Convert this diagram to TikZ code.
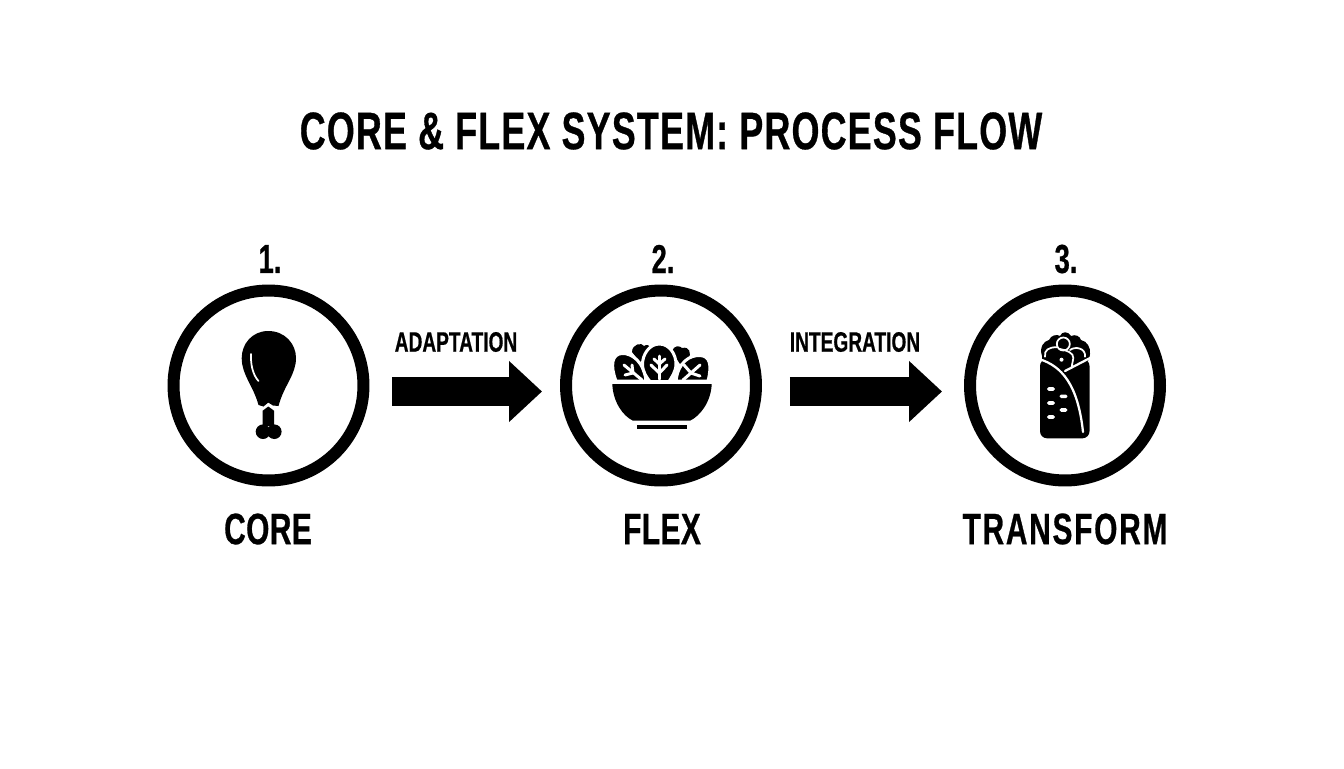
\documentclass[tikz,border=0pt]{standalone}
\usepackage{fontspec}
\setmainfont{Liberation Sans}[BoldFeatures={FakeStretch=0.68,FakeBold=0.6}]
\usetikzlibrary{arrows.meta}
\tikzset{
  stepring/.style={circle,draw=black,line width=.24cm,minimum size=3.8cm,inner sep=0pt},
  flowarrow/.style={draw=black,line width=.58cm,-{Triangle[length=.66cm,width=1.18cm]}},
  titletext/.style={font=\fontsize{30}{30}\selectfont\bfseries\addfontfeature{LetterSpace=2.3}},
  numtext/.style={font=\fontsize{23}{23}\selectfont\bfseries},
  nametext/.style={font=\fontsize{25}{25}\selectfont\bfseries\addfontfeature{LetterSpace=1}},
  widetext/.style={font=\fontsize{25}{25}\selectfont\bfseries\addfontfeature{LetterSpace=4}},
  flowtext/.style={font=\fontsize{16}{16}\selectfont\bfseries},
  vein/.style={draw=white,line width=.06cm,line cap=round},
  leaf/.style={fill=black,draw=white,line width=.06cm},
  wrapline/.style={draw=white,line width=.045cm,line cap=round}
}
\begin{document}
\begin{tikzpicture}[x=.02cm,y=-.02cm]
\useasboundingbox (0,0) rectangle (1344,768);
\node[titletext] (title) at (671,131) {CORE \& FLEX SYSTEM: PROCESS FLOW};
\node[stepring] (core) at (268.5,385.5) {};
\node[stepring] (flex) at (661,385.5) {};
\node[stepring] (transform) at (1065,385.5) {};
\node[numtext] (numcore) at (270,259) {1.};
\node[numtext] (numflex) at (663,259) {2.};
\node[numtext] (numtransform) at (1066,259) {3.};
\node[nametext] (namecore) at (268,529) {CORE};
\node[nametext] (nameflex) at (662,529) {FLEX};
\node[widetext] (nametransform) at (1065,529) {TRANSFORM};
\node[flowtext] (adaptation) at (456,342) {ADAPTATION};
\node[flowtext] (integration) at (855,342) {INTEGRATION};
\draw[flowarrow,shorten <=.46cm,shorten >=.36cm] ([yshift=-.12cm]core.east) -- ([yshift=-.12cm]flex.west);
\draw[flowarrow,shorten <=.56cm,shorten >=.44cm] ([yshift=-.12cm]flex.east) -- ([yshift=-.12cm]transform.west);
\fill (268.3,331) .. controls (285,331) and (296,344) .. (296,358) .. controls (296,375) and (284,385) .. (278.5,406) -- (273,405.5) -- (268.3,402.5) -- (263.5,406.5) -- (258.5,405) .. controls (253,385) and (241.7,375) .. (241.7,358) .. controls (241.7,344) and (252,331) .. (268.3,331) -- cycle;
\fill (268.3,406.5) -- (274,410.7) -- (274,426) -- (262.7,426) -- (262.7,410.7) -- cycle;
\fill (263,431.7) circle[radius=7.3];
\fill (274.3,431.7) circle[radius=7.3];
\draw[vein,line width=.035cm] (251,354) .. controls (250.5,365) and (253,375) .. (258.5,381);
\fill (612.3,384) -- (711.7,384) .. controls (711,402) and (700,416) .. (690,420.7) -- (633,420.7) .. controls (623,416) and (613,402) .. (612.3,384) -- cycle;
\fill (636.7,425) rectangle (686.7,429.3);
\fill (632,352) .. controls (632,344) and (642,342) .. (644,346) .. controls (650,342) and (652,350) .. (650,354) -- (640,362) -- cycle;
\fill (672,352) .. controls (674,344) and (680,346) .. (682,348) .. controls (690,346) and (691,354) .. (689,358) -- (680,364) -- cycle;
\draw[leaf] (616,381) .. controls (610,365) and (612,354) .. (622,353.5) .. controls (632,353) and (644,362) .. (646,381) -- cycle;
\draw[leaf] (708,381) .. controls (712,365) and (710,356) .. (700,355.5) .. controls (690,355) and (678,362) .. (676,381) -- cycle;
\draw[leaf] (659.3,344) .. controls (670,344) and (676,355) .. (676,364) .. controls (676,372) and (671,378) .. (669,381.5) -- (650,381.5) .. controls (647,378) and (642.5,372) .. (642.5,364) .. controls (642.5,355) and (649,344) .. (659.3,344) -- cycle;
\draw[vein] (659.3,379) -- (659.3,356);
\draw[vein] (659.3,373) -- (651,365);
\draw[vein] (659.3,373) -- (667,365);
\draw[vein] (659.3,364) -- (654,359);
\draw[vein] (659.3,364) -- (665,359);
\draw[vein] (642,380) -- (624,365);
\draw[vein] (633,373) -- (632,365);
\draw[vein] (633,373) -- (625,375);
\draw[vein] (683,380) -- (700,365);
\draw[vein] (691,373) -- (684,365);
\draw[vein] (691,373) -- (700,376);
\fill[rounded corners=4pt] (1040,359) -- (1089.5,359) -- (1089.5,438.3) -- (1040,438.3) -- cycle;
\fill (1042,356) .. controls (1039,347) and (1044,341) .. (1049,340) .. controls (1051,335) and (1057,334) .. (1060,336) .. controls (1062,331) and (1068,331) .. (1071,336) .. controls (1075,334) and (1080,336) .. (1081,340) .. controls (1087,341) and (1091,348) .. (1090,354) .. controls (1090,357) and (1089,359) .. (1088,361) -- (1042,361) -- cycle;
\draw[wrapline] (1039,359) .. controls (1062,366) and (1078,385) .. (1083,432);
\draw[wrapline] (1065,371) -- (1090,358);
\draw[wrapline,line width=.035cm] (1045,356.7) .. controls (1044,350) and (1049,347) .. (1056.7,347.3);
\draw[wrapline,line width=.035cm] (1063.3,344) circle[radius=6.5];
\draw[wrapline,line width=.035cm] (1060,349) .. controls (1066,350) and (1074,353) .. (1073.3,358) .. controls (1073,361) and (1072,364) .. (1071.7,366.7);
\draw[wrapline,line width=.035cm] (1070,350) .. controls (1075,346) and (1086,348) .. (1085,356.7);
\fill[white] (1061.5,359.7) circle[radius=2];
\foreach \dotx/\doty [count=\doti] in {1051/389,1063.5/396.3,1051/403,1063.5/410,1051/417}
  \fill[white,rounded corners=.8pt] (\dotx-3.8,\doty-1.8) rectangle (\dotx+3.8,\doty+1.8);
\end{tikzpicture}
\end{document}
